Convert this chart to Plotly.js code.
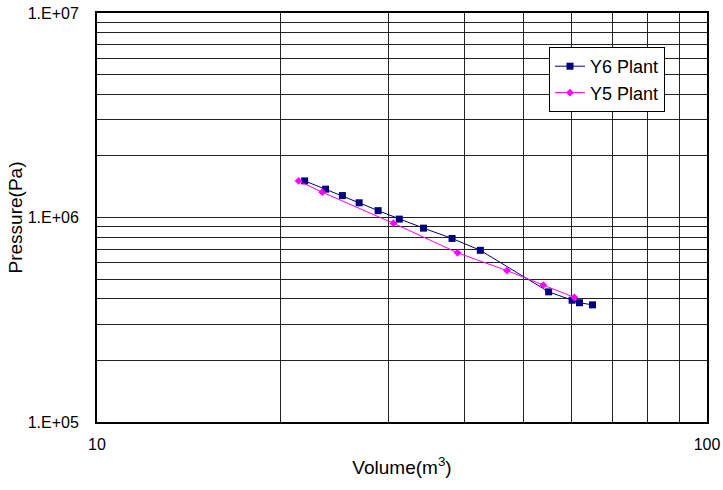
<!DOCTYPE html>
<html>
<head>
<meta charset="utf-8">
<script src="https://cdn.plot.ly/plotly-3.0.1.min.js"></script>
<style>html,body{margin:0;padding:0;background:#fff;}#chart{width:723px;height:490px;}</style>
</head>
<body>
<div id="chart"></div>
<script>
var y6Volume = [21.9, 23.7, 25.25, 26.9, 28.9, 31.3, 34.3, 38.2, 42.5, 55.0, 60.1, 61.8, 64.9];
var y6Pressure = [1.51e6, 1.376e6, 1.28e6, 1.18e6, 1.08e6, 9.82e5, 8.87e5, 7.9e5, 6.91e5, 4.33e5, 3.94e5, 3.83e5, 3.74e5];
var y5Volume = [21.4, 23.4, 30.6, 39.0, 47.0, 53.9, 60.6];
var y5Pressure = [1.51e6, 1.33e6, 9.38e5, 6.72e5, 5.5e5, 4.67e5, 4.07e5];

var xTickVals = [10, 20, 30, 40, 50, 60, 70, 80, 90, 100];
var xTickText = ['10', '', '', '', '', '', '', '', '', '100'];
var yTickVals = [1e5, 2e5, 3e5, 4e5, 5e5, 6e5, 7e5, 8e5, 9e5,
                 1e6, 2e6, 3e6, 4e6, 5e6, 6e6, 7e6, 8e6, 9e6, 1e7];
var yTickText = ['1.E+05', '', '', '', '', '', '', '', '',
                 '1.E+06', '', '', '', '', '', '', '', '', '1.E+07'];

var traces = [
  {x: y6Volume, y: y6Pressure, name: 'Y6 Plant', mode: 'lines+markers', type: 'scatter',
   line: {color: '#000080', width: 1}, marker: {symbol: 'square', size: 7, color: '#000080'}},
  {x: y5Volume, y: y5Pressure, name: 'Y5 Plant', mode: 'lines+markers', type: 'scatter',
   line: {color: '#FF00FF', width: 1}, marker: {symbol: 'diamond', size: 6, color: '#FF00FF'}}
];

var layout = {
  width: 723, height: 490,
  margin: {l: 97, r: 16, t: 13, b: 68, pad: 0},
  paper_bgcolor: '#fff', plot_bgcolor: '#fff',
  font: {family: 'Liberation Sans, Arial, sans-serif', color: '#000', size: 16},
  showlegend: true,
  legend: {bgcolor: '#fff', bordercolor: '#000', borderwidth: 1, itemwidth: 30,
           tracegroupgap: 0,
           font: {size: 18, family: 'Liberation Sans, Arial, sans-serif'}},
  xaxis: {
    type: 'log', range: [1, 2], tickmode: 'array', tickvals: xTickVals, ticktext: xTickText,
    showgrid: true, gridcolor: '#222', gridwidth: 1, zeroline: false,
    showline: true, linecolor: '#000', linewidth: 2, mirror: true, ticks: '',
    ticklabelstandoff: 7, tickfont: {size: 16},
    title: {text: 'Volume(m<sup>3</sup>)', font: {size: 19}, standoff: 8}
  },
  yaxis: {
    type: 'log', range: [5, 7], tickmode: 'array', tickvals: yTickVals, ticktext: yTickText,
    showgrid: true, gridcolor: '#222', gridwidth: 1, zeroline: false,
    showline: true, linecolor: '#000', linewidth: 2, mirror: true, ticks: '',
    ticklabelstandoff: 13, tickfont: {size: 16},
    title: {text: 'Pressure(Pa)', font: {size: 19}, standoff: 0}
  }
};
// legend position in paper coordinates
layout.legend.x = (549 - 97) / 610;
layout.legend.y = 1 - (47 - 13) / 409;
layout.legend.xanchor = 'left';
layout.legend.yanchor = 'top';

Plotly.newPlot('chart', traces, layout, {displayModeBar: false, staticPlot: true});
</script>
</body>
</html>
